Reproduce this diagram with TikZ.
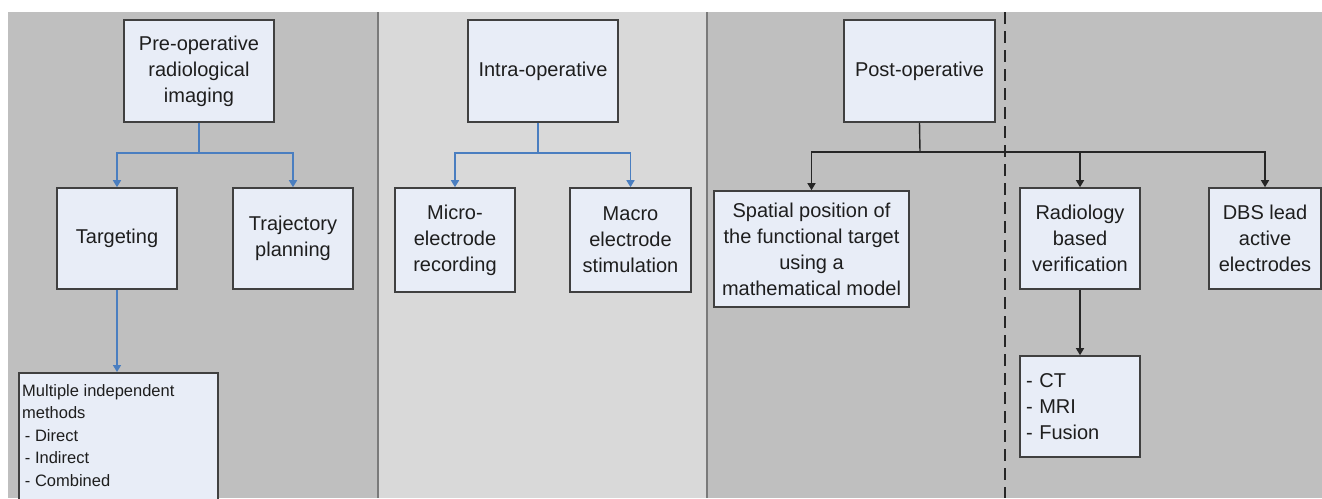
\documentclass[tikz,border=0pt]{standalone}
\usepackage{fontspec}
\setmainfont{Liberation Sans}
\usetikzlibrary{arrows.meta}
\definecolor{panelA}{HTML}{BFBFBF}
\definecolor{panelB}{HTML}{D9D9D9}
\definecolor{divider}{HTML}{7A7A7A}
\definecolor{boxfill}{HTML}{E8EDF7}
\definecolor{boxline}{HTML}{404040}
\definecolor{bluearrow}{HTML}{4A7EC0}
\definecolor{txt}{HTML}{1E1E1E}
\begin{document}
\begin{tikzpicture}[x=1pt,y=-1pt,
  box/.style={draw=boxline, line width=1.6pt, fill=boxfill, rectangle, inner sep=2pt,
    align=center, text=txt, font=\fontsize{20}{26}\selectfont},
  bluecon/.style={draw=bluearrow, line width=1.6pt, -{Triangle[width=8pt,length=7pt]}},
  blackcon/.style={draw=black!85, line width=1.4pt, -{Triangle[width=8pt,length=7pt]}},
  smalltext/.style={text=txt, align=left, inner sep=0pt, font=\fontsize{16.5}{22.5}\selectfont}
]
\useasboundingbox (0,0) rectangle (1322,498);
\clip (0,0) rectangle (1322,498);
% panels
\fill[white] (0,0) rectangle (1322,498);
\fill[panelA] (8,12) rectangle (378,498);
\fill[panelB] (378,12) rectangle (707,498);
\fill[panelA] (707,12) rectangle (1322,498);
\draw[divider, line width=2pt] (378,12) -- (378,498);
\draw[divider, line width=2pt] (707,12) -- (707,498);
\draw[black!85, line width=2pt, dash pattern=on 12pt off 7pt] (1005,12) -- (1005,498);

% pre-operative
\node[box, minimum width=150, minimum height=102] (pre) at (199,71) {Pre-operative\\radiological\\imaging};
\node[box, minimum width=120, minimum height=101] (targ) at (117,238.5) {Targeting};
\node[box, minimum width=120, minimum height=101] (traj) at (293,238.5) {Trajectory\\planning};
\node[box, anchor=north west, minimum width=199, minimum height=150] (mult) at (18,372) {};
\node[smalltext, anchor=north west] (multtxt) at (22,384) {Multiple independent\\methods\\\,- Direct\\\,- Indirect\\\,- Combined};

\coordinate (prej) at (199,153);
\draw[draw=bluearrow, line width=1.6pt] (pre.south) -- (prej);
\draw[bluecon] (prej) -| (targ.north);
\draw[bluecon] (prej) -| (traj.north);
\draw[bluecon] (targ.south) -- (mult.north -| targ.south);

% intra-operative
\node[box, minimum width=150, minimum height=102] (intra) at (543,71) {Intra-operative};
\node[box, minimum width=120, minimum height=104] (micro) at (455,240) {Micro-\\electrode\\recording};
\node[box, minimum width=121, minimum height=104] (macro) at (630.5,240) {Macro\\electrode\\stimulation};
\coordinate (intraj) at (538,153);
\draw[draw=bluearrow, line width=1.6pt] (intraj |- intra.south) -- (intraj);
\draw[bluecon] (intraj) -| (micro.north);
\draw[bluecon] (intraj) -| (macro.north);

% post-operative
\node[box, minimum width=151, minimum height=102] (post) at (919.5,71) {Post-operative};
\node[box, minimum width=195, minimum height=116] (spat) at (811.5,249) {Spatial position of\\the functional target\\using a\\mathematical model};
\node[box, minimum width=120, minimum height=101] (radio) at (1080,238.5) {Radiology\\based\\verification};
\node[box, minimum width=112, minimum height=101] (dbs) at (1265,238.5) {DBS lead\\active\\electrodes};
\node[box, minimum width=120, minimum height=101, align=left, text width=108] (ct) at (1080,406.5) {- CT\\- MRI\\- Fusion};

\coordinate (postj) at (920,152);
\draw[draw=black!85, line width=1.4pt] (post.south) -- (postj);
\draw[blackcon] (postj) -| (spat.north);
\draw[blackcon] (postj) -| (radio.north);
\draw[blackcon] (postj) -| (dbs.north);
\draw[blackcon] (radio.south) -- (ct.north);
\end{tikzpicture}
\end{document}
